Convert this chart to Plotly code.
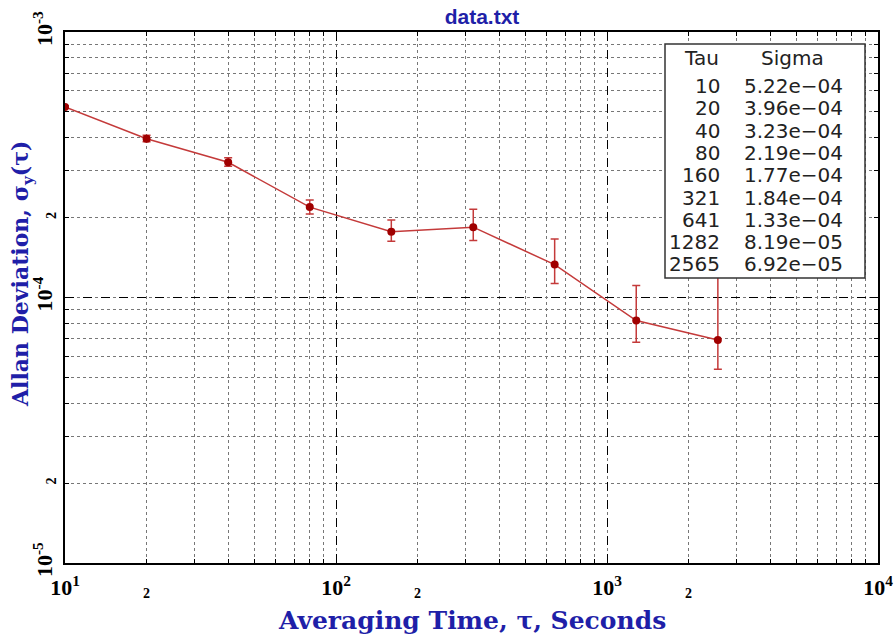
import plotly.graph_objects as go

# ---- data ----
tau = [10, 20, 40, 80, 160, 321, 641, 1282, 2565]
sigma = [5.22e-4, 3.96e-4, 3.23e-4, 2.19e-4, 1.77e-4, 1.84e-4, 1.33e-4, 8.19e-5, 6.92e-5]
err_plus = [5e-6, 1.2e-5, 1.3e-5, 1.4e-5, 1.9e-5, 3.1e-5, 3.3e-5, 2.9e-5, 6.3e-5]
err_minus = [5e-6, 1.0e-5, 1.1e-5, 1.25e-5, 1.4e-5, 2.0e-5, 2.0e-5, 1.4e-5, 1.55e-5]

x_major = [10, 100, 1000, 10000]
x_major_text = ["10<sup>1</sup>", "10<sup>2</sup>", "10<sup>3</sup>", "10<sup>4</sup>"]
x_two = [20, 200, 2000]
y_major = [1e-5, 1e-4, 1e-3]
y_major_text = ["10<sup>-5</sup>", "10<sup>-4</sup>", "10<sup>-3</sup>"]
y_two = [2e-5, 2e-4]

BLUE = "#1f1fa8"
RED = "#c43a3a"
DARKRED = "#a00000"

W, H = 896, 637
L, R, T, B = 65, 18, 32, 74
PW, PH = W - L - R, H - T - B


def px_x(p):
    return (p - L) / PW


def px_y(p):
    return (H - B - p) / PH


fig = go.Figure()
fig.add_trace(go.Scatter(
    x=tau, y=sigma, mode="lines+markers",
    line=dict(color=RED, width=1.5),
    marker=dict(color=DARKRED, size=8),
    error_y=dict(type="data", array=err_plus, arrayminus=err_minus,
                 color=RED, thickness=1.5, width=4),
    showlegend=False, hoverinfo="x+y",
))
# invisible copy on the overlay axes so that the "2" tick labels are drawn
fig.add_trace(go.Scatter(
    x=tau, y=sigma, xaxis="x2", yaxis="y2", mode="markers",
    marker=dict(opacity=0), showlegend=False, hoverinfo="skip",
))

tickfont_big = dict(family="Liberation Serif", size=22, color="black", weight="bold")
tickfont_small = dict(family="Liberation Serif", size=14, color="black", weight="bold")

common = dict(
    type="log", ticks="inside", ticklen=8, tickwidth=1, tickcolor="black",
    mirror="allticks", showline=True, linewidth=2, linecolor="black",
    showgrid=True, gridcolor="black", griddash="dash", gridwidth=1,
    zeroline=False, automargin=False,
    minor=dict(dtick="D1", ticks="inside", ticklen=4, tickcolor="black",
               showgrid=True, gridcolor="#777", griddash="dot", gridwidth=1),
    tickfont=tickfont_big,
)

fig.update_layout(
    width=W, height=H,
    margin=dict(l=L, r=R, t=T, b=B, autoexpand=False),
    paper_bgcolor="white", plot_bgcolor="white",
    title=dict(text="<b>data.txt</b>", x=482 / W, xref="container", xanchor="center",
               y=1 - 17 / H, yref="container", yanchor="middle",
               font=dict(family="Liberation Sans", size=21, color=BLUE)),
    xaxis=dict(common, range=[1, 4], tickvals=x_major, ticktext=x_major_text,
               ticklabelstandoff=4),
    yaxis=dict(common, range=[-5, -3], tickvals=y_major, ticktext=y_major_text,
               tickangle=-90, ticklabelstandoff=2),
    xaxis2=dict(type="log", range=[1, 4], overlaying="x", anchor="y2", side="bottom",
                tickvals=x_two, ticktext=["2"] * len(x_two), ticks="", showgrid=False,
                showline=False, zeroline=False, tickfont=tickfont_small,
                ticklabelstandoff=20, automargin=False),
    yaxis2=dict(type="log", range=[-5, -3], overlaying="y", anchor="x2", side="left",
                tickvals=y_two, ticktext=["2"] * len(y_two), ticks="", showgrid=False,
                showline=False, zeroline=False, tickfont=tickfont_small, tickangle=-90,
                ticklabelstandoff=5, automargin=False),
)

# axis titles
fig.add_annotation(xref="paper", yref="paper", x=px_x(472), y=px_y(620),
                   text="<b>Averaging Time, τ, Seconds</b>", showarrow=False,
                   xanchor="center", yanchor="middle",
                   font=dict(family="DejaVu Serif", size=25, color=BLUE))
fig.add_annotation(xref="paper", yref="paper", x=px_x(22), y=px_y(274),
                   text="<b>Allan Deviation, σ<sub>y</sub>(τ)</b>", showarrow=False,
                   textangle=-90, xanchor="center", yanchor="middle",
                   font=dict(family="DejaVu Serif", size=22, color=BLUE))

# legend table box
box_x0, box_x1, box_y0, box_y1 = 665, 865, 44, 278
fig.add_shape(type="rect", xref="paper", yref="paper",
              x0=px_x(box_x0), x1=px_x(box_x1), y0=px_y(box_y1), y1=px_y(box_y0),
              fillcolor="white", line=dict(color="#333", width=1.5), layer="above")

tfont = dict(family="DejaVu Sans", size=20, color="#222")
fig.add_annotation(xref="paper", yref="paper", x=px_x(701), y=px_y(58), text="Tau",
                   showarrow=False, font=tfont, xanchor="center", yanchor="middle")
fig.add_annotation(xref="paper", yref="paper", x=px_x(792), y=px_y(58), text="Sigma",
                   showarrow=False, font=tfont, xanchor="center", yanchor="middle")
for i, (t, s) in enumerate(zip(tau, sigma)):
    yy = px_y(86 + 22.3 * i)
    fig.add_annotation(xref="paper", yref="paper", x=px_x(722), y=yy, text=str(t),
                       showarrow=False, font=tfont, xanchor="right", yanchor="middle")
    fig.add_annotation(xref="paper", yref="paper", x=px_x(742), y=yy,
                       text=("%.2e" % s).replace("-", "−"),
                       showarrow=False, font=tfont, xanchor="left", yanchor="middle")

fig.write_html("out.html")
